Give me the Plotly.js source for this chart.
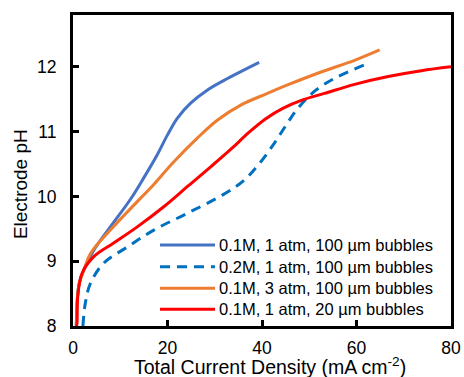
<!DOCTYPE html>
<html>
<head>
<meta charset="utf-8">
<script src="https://cdn.plot.ly/plotly-3.0.1.min.js"></script>
<style>html,body{margin:0;padding:0;background:#fff;}#chart{width:464px;height:377px;}</style>
</head>
<body>
<div id="chart"></div>
<script>
// Series names
const seriesNames = [
  "0.1M, 1 atm, 100 µm bubbles",
  "0.2M, 1 atm, 100 µm bubbles",
  "0.1M, 3 atm, 100 µm bubbles",
  "0.1M, 1 atm, 20 µm bubbles"
];
// 0.1M, 1 atm, 100 um
const x1 = [0.7, 0.9, 1.3, 2.25, 4.4, 7.9, 12.2, 15.0, 17.8, 20.0, 22.1, 24.9, 28.4, 32.7, 39.4];
const y1 = [8.0, 8.4, 8.65, 8.86, 9.17, 9.53, 9.96, 10.29, 10.64, 10.95, 11.21, 11.44, 11.64, 11.82, 12.07];
// 0.2M, 1 atm, 100 um (dashed)
const x2 = [2.1, 2.6, 3.7, 6.5, 11.5, 17.1, 24.2, 31.6, 36.2, 39.8, 42.6, 45.1, 47.6, 51.4, 56.1, 61.7];
const y2 = [8.0, 8.35, 8.66, 8.97, 9.22, 9.48, 9.74, 10.02, 10.25, 10.54, 10.82, 11.10, 11.36, 11.64, 11.85, 12.03];
// 0.1M, 3 atm, 100 um
const x3 = [0.7, 0.9, 1.3, 2.4, 3.7, 7.9, 13.6, 16.4, 21.4, 26.3, 30.6, 35.5, 40.8, 45.4, 52.5, 59.6, 64.9];
const y3 = [8.0, 8.4, 8.65, 8.88, 9.12, 9.48, 9.92, 10.13, 10.54, 10.90, 11.18, 11.41, 11.58, 11.72, 11.92, 12.10, 12.26];
// 0.1M, 1 atm, 20 um
const x4 = [0.75, 0.85, 1.0, 1.9, 4.4, 8.6, 13.6, 19.2, 24.5, 29.2, 33.6, 37.1, 40.8, 44.4, 48.6, 53.2, 59.6, 66.7, 73.7, 80];
const y4 = [8.0, 8.05, 8.45, 8.81, 9.07, 9.28, 9.53, 9.84, 10.17, 10.46, 10.74, 10.98, 11.2, 11.36, 11.49, 11.59, 11.73, 11.85, 11.94, 12.0];
const xTicks = [0, 20, 40, 60, 80];
const yTicks = [8, 9, 10, 11, 12];
const xTitle = "Total Current Density (mA cm<sup>-2</sup>)";
const yTitle = "Electrode pH";

const FONT = "Liberation Sans, Arial, sans-serif";
const colors = ["#4472C4", "#0070C0", "#ED7D31", "#FF0000"];
const dashes = ["solid", "10px,7px", "solid", "solid"];
const xs = [x1, x2, x3, x4], ys = [y1, y2, y3, y4];
const traces = xs.map((x, i) => ({
  x: x, y: ys[i], name: seriesNames[i], mode: "lines", showlegend: false,
  line: {color: colors[i], width: 3, dash: dashes[i], shape: "spline", smoothing: 1.0}
}));

// Hand-placed legend (paper coordinates)
const legY = [0.2605, 0.1907, 0.1212, 0.0537];
const legX0 = 0.2302, legX1 = 0.3757, legTextX = 0.381;
const shapes = legY.map((yy, i) => ({
  type: "line", xref: "paper", yref: "paper", x0: legX0, x1: legX1, y0: yy, y1: yy,
  line: {color: colors[i], width: 3, dash: dashes[i]}
}));
const annotations = legY.map((yy, i) => ({
  text: seriesNames[i], xref: "paper", yref: "paper", x: legTextX, y: yy,
  xanchor: "left", yanchor: "middle", showarrow: false,
  font: {family: FONT, size: 16.5, color: "#000"}
}));
annotations.push(
  {text: xTitle, xref: "paper", yref: "paper", x: 0.52, y: -0.13, xanchor: "center", yanchor: "middle",
   showarrow: false, font: {family: FONT, size: 19.5, color: "#000"}},
  {text: yTitle, xref: "paper", yref: "paper", x: -0.137, y: 0.457, xanchor: "center", yanchor: "middle",
   textangle: -90, showarrow: false, font: {family: FONT, size: 19, color: "#000"}}
);

const layout = {
  width: 464, height: 377,
  margin: {l: 73, r: 13, t: 15, b: 51, pad: 0},
  paper_bgcolor: "#fff", plot_bgcolor: "#fff",
  font: {family: FONT, color: "#000", size: 17.5},
  showlegend: false,
  xaxis: {range: [0, 80], tickvals: xTicks, ticktext: xTicks.map(String), showgrid: false, zeroline: false,
          showline: true, linecolor: "#000", linewidth: 3, mirror: true,
          ticks: "inside", ticklen: 6, tickwidth: 3, tickcolor: "#000", ticklabelstandoff: 4,
          tickfont: {size: 17.5}},
  yaxis: {range: [8, 12.8], tickvals: yTicks, ticktext: yTicks.map(String), showgrid: false, zeroline: false,
          showline: true, linecolor: "#000", linewidth: 3, mirror: true,
          ticks: "inside", ticklen: 6, tickwidth: 3, tickcolor: "#000", ticklabelstandoff: 10,
          tickfont: {size: 17.5}},
  shapes: shapes,
  annotations: annotations
};
Plotly.newPlot("chart", traces, layout, {displayModeBar: false, staticPlot: true});
</script>
</body>
</html>
